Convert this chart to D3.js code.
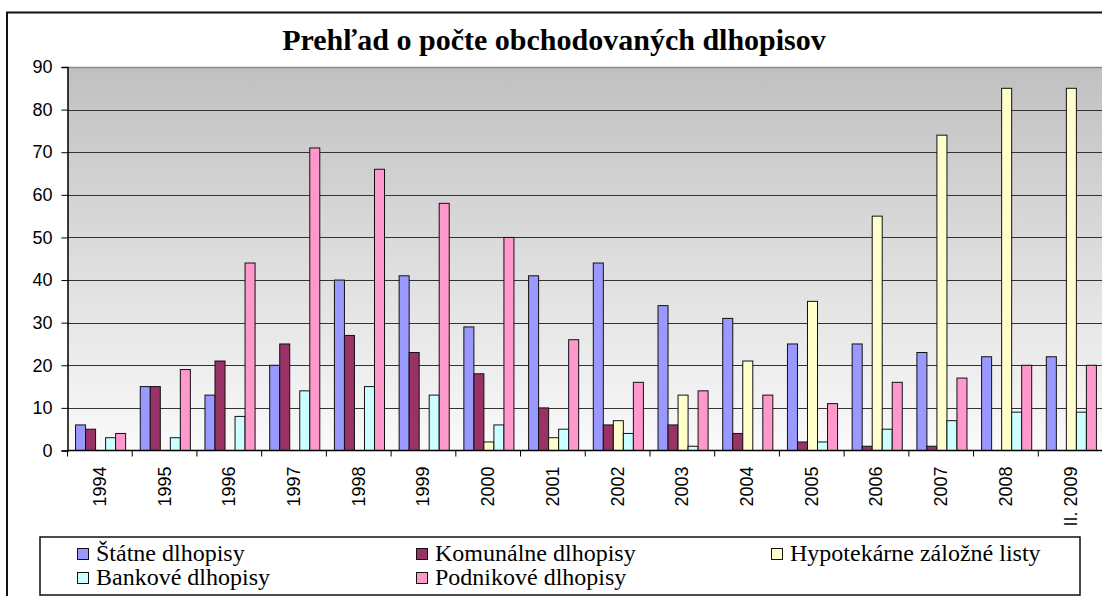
<!DOCTYPE html>
<html>
<head>
<meta charset="utf-8">
<script src="https://cdn.jsdelivr.net/npm/d3@7"></script>
<style>
	body { margin: 0; background: #fff; }
	svg { display: block; }
</style>
</head>
<body>
<div id="chart"></div>
<script>
const years = ['1994', '1995', '1996', '1997', '1998', '1999', '2000', '2001', '2002', '2003', '2004', '2005', '2006', '2007', '2008', 'II. 2009']
const seriesNames = ['Štátne dlhopisy', 'Komunálne dlhopisy', 'Hypotekárne záložné listy', 'Bankové dlhopisy', 'Podnikové dlhopisy']
const statne      = [6, 15, 13, 20, 40, 41, 29, 41, 44, 34, 31, 25, 25, 23, 22, 22]
const komunalne   = [5, 15, 21, 25, 27, 23, 18, 10, 6, 6, 4, 2, 1, 1, 0, 0]
const hypotekarne = [0, 0, 0, 0, 0, 0, 2, 3, 7, 13, 21, 35, 55, 74, 85, 85]
const bankove     = [3, 3, 8, 14, 15, 13, 6, 5, 4, 1, 0, 2, 5, 7, 9, 9]
const podnikove   = [4, 19, 44, 71, 66, 58, 50, 26, 16, 14, 13, 11, 16, 17, 20, 20]
const yTicks = [0, 10, 20, 30, 40, 50, 60, 70, 80, 90]
const colors = ['#9999ff', '#993366', '#ffffcc', '#ccffff', '#ff99cc']

const allSeries = [statne, komunalne, hypotekarne, bankove, podnikove]

const sans = "'Liberation Sans', Arial, sans-serif"
const serif = "'Liberation Serif', 'Times New Roman', serif"

var width = 1102
var height = 596
var plot = { left: 67.5, right: 1103, top: 67, bottom: 450.5 }

var svg = d3.select('#chart')
	.append('svg')
	.attr('width', width)
	.attr('height', height)

// plot background gradient
var grad = svg.append('defs')
	.append('linearGradient')
	.attr('id', 'bg')
	.attr('x1', 0).attr('y1', 0).attr('x2', 0).attr('y2', 1)
grad.append('stop').attr('offset', '0%').attr('stop-color', '#c0c0c0')
grad.append('stop').attr('offset', '100%').attr('stop-color', '#fafafa')

// outer chart frame
svg.append('rect')
	.attr('x', 7)
	.attr('y', 12.5)
	.attr('width', 1110)
	.attr('height', 600)
	.attr('fill', '#fff')
	.attr('stroke', '#111')
	.attr('stroke-width', 2)

// scales
var x0 = d3.scaleBand()
	.domain(years)
	.range([plot.left, plot.right])
	.paddingInner(0)
	.paddingOuter(0)

var x1 = d3.scaleBand()
	.domain(d3.range(seriesNames.length))
	.range([0, x0.bandwidth()])
	.paddingInner(0)
	.paddingOuter(0.73)
	.align(0.55)

var y = d3.scaleLinear()
	.domain([0, 90])
	.range([plot.bottom, plot.top])

svg.append('rect')
	.attr('x', plot.left)
	.attr('y', plot.top)
	.attr('width', plot.right - plot.left)
	.attr('height', plot.bottom - plot.top)
	.attr('fill', 'url(#bg)')

// gridlines
svg.append('g')
	.selectAll('line')
	.data(yTicks.filter(d => d > 0))
	.enter()
	.append('line')
	.attr('x1', plot.left)
	.attr('x2', plot.right)
	.attr('y1', d => Math.round(y(d)) + 0.5)
	.attr('y2', d => Math.round(y(d)) + 0.5)
	.attr('stroke', d => d == 90 ? '#8a8a8a' : '#333')
	.attr('stroke-width', d => d == 90 ? 1.5 : 1)

// bars
var groups = svg.append('g')
	.selectAll('g')
	.data(years)
	.enter()
	.append('g')
	.attr('transform', d => 'translate(' + x0(d) + ',0)')

groups.selectAll('rect')
	.data((d, i) => allSeries.map((s, k) => ({ k: k, value: s[i] })).filter(e => e.value > 0))
	.enter()
	.append('rect')
	.attr('x', d => x1(d.k))
	.attr('y', d => y(d.value))
	.attr('width', x1.bandwidth())
	.attr('height', d => y(0) - y(d.value))
	.attr('fill', d => colors[d.k])
	.attr('stroke', '#111')
	.attr('stroke-width', 1)

// y axis
var yAxis = svg.append('g')
	.attr('transform', 'translate(' + plot.left + ',0)')
	.call(d3.axisLeft(y).tickValues(yTicks).tickSize(6).tickPadding(9))
yAxis.attr('font-family', sans).attr('font-size', 18)
yAxis.select('.domain').attr('stroke', '#000').attr('stroke-width', 1.5)
yAxis.selectAll('.tick line').attr('stroke', '#000')
yAxis.selectAll('text').attr('fill', '#000')

// x axis line and ticks between categories
svg.append('line')
	.attr('x1', plot.left)
	.attr('x2', plot.right)
	.attr('y1', plot.bottom)
	.attr('y2', plot.bottom)
	.attr('stroke', '#000')
	.attr('stroke-width', 1.5)

svg.append('g')
	.selectAll('line')
	.data(years)
	.enter()
	.append('line')
	.attr('x1', d => x0(d))
	.attr('x2', d => x0(d))
	.attr('y1', plot.bottom)
	.attr('y2', plot.bottom + 6)
	.attr('stroke', '#000')

// rotated category labels
svg.append('g')
	.selectAll('text')
	.data(years)
	.enter()
	.append('text')
	.attr('transform', d => 'translate(' + (x0(d) + x0.bandwidth() / 2 + 6) + ',' + (plot.bottom + 16) + ') rotate(-90)')
	.attr('text-anchor', 'end')
	.attr('font-family', sans)
	.attr('font-size', 18)
	.attr('fill', '#000')
	.text(d => d)

// title
svg.append('text')
	.attr('x', 554)
	.attr('y', 50)
	.attr('text-anchor', 'middle')
	.attr('font-family', serif)
	.attr('font-weight', 'bold')
	.attr('font-size', 30)
	.attr('fill', '#000')
	.text('Prehľad o počte obchodovaných dlhopisov')

// legend
var legend = svg.append('g')
legend.append('rect')
	.attr('x', 40)
	.attr('y', 537)
	.attr('width', 1040)
	.attr('height', 58)
	.attr('fill', '#fff')
	.attr('stroke', '#111')
	.attr('stroke-width', 1.5)

var legendPos = [[77, 548], [416, 548], [771, 548], [77, 572], [416, 572]]
var items = legend.selectAll('g.item')
	.data(seriesNames)
	.enter()
	.append('g')
	.attr('class', 'item')
	.attr('transform', (d, i) => 'translate(' + legendPos[i][0] + ',' + legendPos[i][1] + ')')

items.append('rect')
	.attr('x', 0.5)
	.attr('y', 0.5)
	.attr('width', 11)
	.attr('height', 11)
	.attr('fill', (d, i) => colors[i])
	.attr('stroke', '#111')

items.append('text')
	.attr('x', 19)
	.attr('y', 13)
	.attr('font-family', serif)
	.attr('font-size', 24)
	.attr('fill', '#000')
	.text(d => d)
</script>
</body>
</html>
